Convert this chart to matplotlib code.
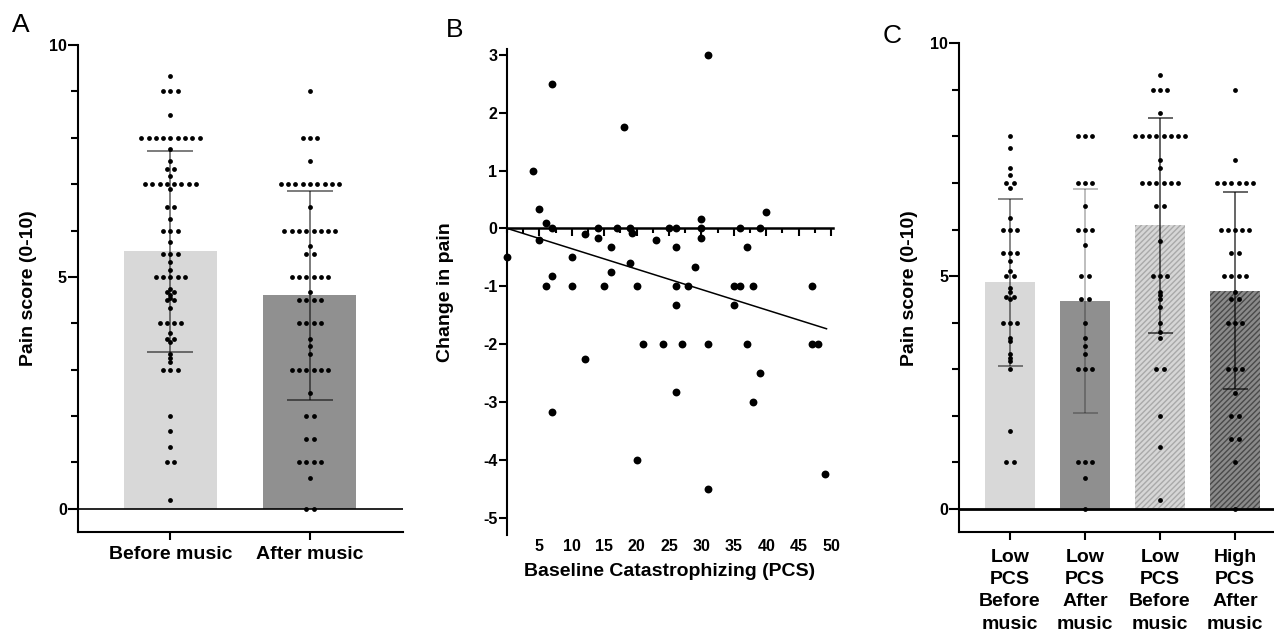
import numpy as np
import matplotlib
matplotlib.use('Agg')
import matplotlib.pyplot as plt
from matplotlib.ticker import MultipleLocator

plt.rcParams['font.family'] = ['Liberation Sans', 'DejaVu Sans']
plt.rcParams['hatch.linewidth'] = 1.0
plt.rcParams['axes.unicode_minus'] = False

# ---- Panel A: pain before / after music (value, count per row of dots)
a_labels = ['Before music', 'After music']
a_means = [5.55, 4.60]
a_sd = [2.16, 2.25]
before_vals = [9.33, 9, 8.5, 8, 7.75, 7.5, 7.33, 7.17, 7, 6.9, 6.5, 6.25, 6, 5.75, 5.5, 5.33,
               5.14, 5, 4.75, 4.67, 4.6, 4.55, 4.5, 4.33, 4, 3.8, 3.67, 3.6, 3.33, 3.25, 3.17,
               3, 2, 1.67, 1.33, 1, 0.2]
before_cnts = [1, 3, 1, 9, 1, 1, 2, 1, 8, 1, 2, 1, 3, 1, 3, 1,
               1, 5, 1, 2, 1, 1, 2, 1, 4, 1, 2, 1, 1, 1, 1,
               3, 1, 1, 1, 2, 1]
after_vals = [9, 8, 7.5, 7, 6.5, 6, 5.67, 5.5, 5, 4.67, 4.5, 4, 3.67, 3.5, 3.33, 3, 2.5, 2,
              1.5, 1, 0.67, 0]
after_cnts = [1, 3, 1, 9, 1, 8, 1, 2, 6, 1, 4, 4, 1, 1, 1, 6, 1, 2, 2, 4, 1, 2]

# ---- Panel B: change in pain vs baseline PCS
pcs = [0, 4, 5, 5, 6, 6, 7, 7, 7, 10, 10, 12, 14, 14, 16, 16, 15, 17, 18, 19, 19.3, 19,
       20, 23, 25, 26, 26, 26, 26, 28, 29, 30, 30, 30, 31, 35, 35, 36, 36, 37, 38, 39, 40,
       47, 7, 12, 20, 21, 24, 26, 27, 31, 31, 37, 39, 38, 47, 48, 49]
change = [-0.5, 1, 0.33, -0.2, 0.1, -1, 2.5, 0, -0.83, -0.5, -1, -0.1, 0, -0.17, -0.33,
          -0.75, -1, 0, 1.75, 0, -0.08, -0.6, -1, -0.2, 0, 0, -0.33, -1, -1.33, -1, -0.67,
          0.17, 0, -0.17, 3, -1, -1.33, 0, -1, -0.33, -1, 0, 0.29, -1, -3.17, -2.25, -4,
          -2, -2, -2.83, -2, -2, -4.5, -2, -2.5, -3, -2, -2, -4.25]
fit_intercept = 0.0
fit_slope = -0.0352
fit_range = [0, 49.3]

# ---- Panel C: by PCS group
c_labels = ['Low\nPCS\nBefore\nmusic', 'Low\nPCS\nAfter\nmusic',
            'Low\nPCS\nBefore\nmusic', 'High\nPCS\nAfter\nmusic']
c_means = [4.87, 4.47, 6.09, 4.69]
c_sd = [1.79, 2.40, 2.30, 2.12]
c_vals = [
    [8, 7.75, 7.33, 7.17, 7, 6.9, 6.25, 6, 5.5, 5.33, 5.1, 5, 4.75, 4.67, 4.55, 4.5, 4,
     3.67, 3.6, 3.33, 3.25, 3.17, 3, 1.67, 1],
    [8, 7, 6.5, 6, 5.67, 5, 4.5, 4, 3.67, 3.5, 3.33, 3, 1, 0.67, 0],
    [9.33, 9, 8.5, 8, 7.5, 7.33, 7, 6.5, 5.75, 5, 4.67, 4.6, 4.5, 4.33, 4, 3.8, 3.67, 3,
     2, 1.33, 0.2],
    [9, 7.5, 7, 6, 5.5, 5, 4.67, 4.5, 4, 3, 2.5, 2, 1.5, 1, 0],
]
c_cnts = [
    [1, 1, 1, 1, 2, 1, 1, 3, 3, 1, 1, 2, 1, 1, 2, 1, 3, 1, 1, 1, 1, 1, 1, 1, 2],
    [3, 3, 1, 3, 1, 2, 2, 1, 1, 1, 1, 3, 3, 1, 1],
    [1, 3, 1, 8, 1, 1, 6, 2, 1, 3, 1, 1, 1, 1, 1, 1, 1, 2, 1, 1, 1],
    [1, 1, 6, 5, 2, 4, 1, 2, 3, 3, 1, 2, 2, 1, 1],
]

W, H = 1274, 631


def swarm(vals, cnts, center, step):
    ys = np.repeat(vals, cnts)
    xs = np.concatenate([center + (np.arange(c) - (c - 1) / 2) * step for c in cnts])
    return xs, ys


def style_bar_axes(ax, xpad=4):
    for s in ['top', 'right']:
        ax.spines[s].set_visible(False)
    for s in ['left', 'bottom']:
        ax.spines[s].set_linewidth(1.5)
    ax.set_ylim(-0.5, 10)
    ax.set_yticks([0, 5, 10])
    ax.yaxis.set_minor_locator(MultipleLocator(1))
    ax.tick_params(axis='y', which='major', length=7, width=1.5, pad=1, labelsize=11.5)
    ax.tick_params(axis='y', which='minor', length=5, width=1.5)
    ax.tick_params(axis='x', length=6, width=1.5, pad=xpad, labelsize=14)
    for t in ax.get_yticklabels():
        t.set_fontweight('bold')
    ax.set_ylabel('Pain score (0-10)', fontsize=14, fontweight='bold')


fig = plt.figure(figsize=(W / 100, H / 100), dpi=100)

# ---------------- A
axA = fig.add_axes([78 / W, 1 - 532 / H, (403 - 78) / W, (532 - 45) / H])
axA.bar(range(2), a_means, width=0.667, color=['#d8d8d8', '#909090'], zorder=1)
for i in range(2):
    eb = axA.errorbar(i, a_means[i], yerr=a_sd[i], fmt='none', ecolor=(0, 0, 0, 0.6),
                      elinewidth=1.2, capsize=16.5, capthick=1.2, zorder=2)
    eb.lines[1][1].set_color((0, 0, 0, 0.25))
axA.axhline(0, color='black', lw=1.2, zorder=2.5)
for i, (v, c) in enumerate([(before_vals, before_cnts), (after_vals, after_cnts)]):
    xs, ys = swarm(v, c, i, 0.0523)
    axA.scatter(xs, ys, s=12, color='black', zorder=3, clip_on=False, linewidths=0)
axA.set_xlim(-0.663, 1.667)
axA.set_xticks(range(2))
axA.set_xticklabels(a_labels, fontweight='bold')
style_bar_axes(axA)
axA.yaxis.set_label_coords(-0.125, 0.5)

# ---------------- B
axB = fig.add_axes([507 / W, 1 - 535 / H, 326 / W, (535 - 49) / H])
axB.scatter(pcs, change, s=32, color='black', zorder=3, clip_on=False, linewidths=0)
fx = np.array(fit_range)
axB.plot(fx, fit_intercept + fit_slope * fx, color='black', lw=1.1, zorder=2)
axB.set_xlim(0, 50.3)
axB.set_ylim(-5.3, 3.1)
axB.spines['top'].set_visible(False)
axB.spines['right'].set_visible(False)
axB.spines['left'].set_linewidth(1.5)
axB.spines['bottom'].set_linewidth(1.8)
axB.spines['bottom'].set_position(('data', 0))
axB.set_xticks(np.arange(5, 51, 5))
axB.xaxis.set_minor_locator(MultipleLocator(2.5))
axB.tick_params(axis='x', which='major', length=6, width=1.5, labelbottom=False)
axB.tick_params(axis='x', which='minor', length=3.5, width=1.5)
axB.set_yticks(range(-5, 4))
axB.tick_params(axis='y', length=6, width=1.5, pad=1, labelsize=11.5)
for t in axB.get_yticklabels():
    t.set_fontweight('bold')
axB.set_ylabel('Change in pain', fontsize=14, fontweight='bold')
axB.yaxis.set_label_coords(-0.163, 0.5)
sec = axB.secondary_xaxis('bottom')
sec.spines['bottom'].set_visible(False)
sec.set_xticks(np.arange(5, 51, 5))
sec.tick_params(length=0, pad=3, labelsize=11.5)
for t in sec.get_xticklabels():
    t.set_fontweight('bold')
sec.set_xlabel('Baseline Catastrophizing (PCS)', fontsize=14, fontweight='bold', labelpad=6)

# ---------------- C
axC = fig.add_axes([959.3 / W, 1 - 532.3 / H, (1273.5 - 959.3) / W, (532.3 - 43.3) / H])
c_face = ['#d8d8d8', '#8f8f8f', '#d6d6d6', '#8a8a8a']
c_hatch = [None, None, '//////', '//////']
c_hatchcol = ['#d8d8d8', '#8f8f8f', '#a9a9a9', '#4a4a4a']
for i in range(4):
    axC.bar(i, c_means[i], width=0.667, color=c_face[i], hatch=c_hatch[i],
            edgecolor=c_hatchcol[i], linewidth=0, zorder=1)
c_ecol = [(0, 0, 0, 0.55), (0, 0, 0, 0.3), (0, 0, 0, 0.7), (0, 0, 0, 0.7)]
for i in range(4):
    axC.errorbar(i, c_means[i], yerr=c_sd[i], fmt='none', ecolor=c_ecol[i],
                 elinewidth=1.2, capsize=9, capthick=1.2, zorder=2)
axC.axhline(0, color='black', lw=2, zorder=2.5)
for i in range(4):
    xs, ys = swarm(c_vals[i], c_cnts[i], i, 0.095)
    axC.scatter(xs, ys, s=12, color='black', zorder=3, clip_on=False, linewidths=0)
axC.set_xlim(-0.676, 3.513)
axC.set_xticks(range(4))
axC.set_xticklabels(c_labels, fontweight='bold', linespacing=1.4)
style_bar_axes(axC, xpad=6)
axC.yaxis.set_label_coords(-0.132, 0.5)

# panel letters
fig.text(12 / W, 1 - 32 / H, 'A', fontsize=19)
fig.text(446 / W, 1 - 37 / H, 'B', fontsize=19)
fig.text(883 / W, 1 - 43 / H, 'C', fontsize=19)

fig.savefig('out.png', dpi=100)
